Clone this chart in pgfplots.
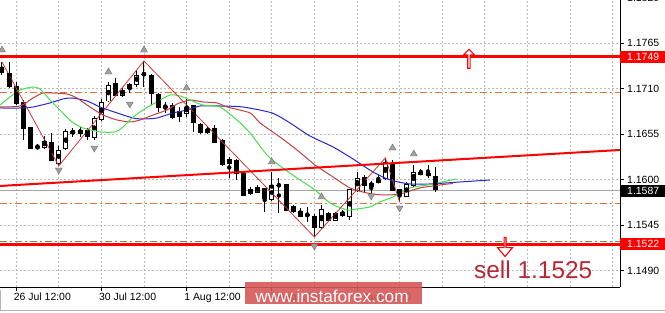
\documentclass[border=0pt]{standalone}
\usepackage{fontspec}
\setmainfont{Liberation Sans}
\usepackage{pgfplots}
\pgfplotsset{compat=1.18}
\usepackage{pgfplotstable}
\usetikzlibrary{shapes.arrows}

\definecolor{gridc}{RGB}{185,185,185}
\definecolor{lipsc}{RGB}{70,225,70}
\definecolor{teethc}{RGB}{195,65,65}
\definecolor{jawc}{RGB}{40,40,205}
\definecolor{zzc}{RGB}{205,55,55}
\definecolor{orangec}{RGB}{230,110,60}
\definecolor{greendd}{RGB}{90,150,90}
\definecolor{sellc}{RGB}{185,40,50}
\definecolor{wmc}{RGB}{214,88,88}
\definecolor{fracc}{RGB}{160,160,160}
\definecolor{bidc}{RGB}{165,165,165}

\pgfplotstableread{
k o h l c b
0 1.17364 1.17424 1.17267 1.17303 0
1 1.17291 1.17424 1.17110 1.17134 0
2 1.17134 1.17183 1.16904 1.16929 0
3 1.16929 1.16965 1.16481 1.16626 0
4 1.16638 1.16638 1.16372 1.16384 0
5 1.16397 1.16433 1.16372 1.16390 0
6 1.16397 1.16530 1.16372 1.16469 1
7 1.16457 1.16566 1.16230 1.16239 0
8 1.16203 1.16409 1.16167 1.16360 1
9 1.16372 1.16614 1.16360 1.16578 1
10 1.16566 1.16626 1.16517 1.16590 1
11 1.16566 1.16638 1.16517 1.16602 1
12 1.16602 1.16626 1.16481 1.16530 0
13 1.16517 1.16771 1.16481 1.16747 1
14 1.16735 1.16977 1.16711 1.16941 1
15 1.16953 1.17183 1.16941 1.17146 1
16 1.17170 1.17231 1.17013 1.17025 0
17 1.17025 1.17122 1.17001 1.17086 1
18 1.17098 1.17170 1.17049 1.17158 1
19 1.17158 1.17328 1.17122 1.17267 1
20 1.17279 1.17436 1.17122 1.17275 0
21 1.17267 1.17279 1.16904 1.17049 0
22 1.17037 1.17049 1.16820 1.16880 0
23 1.16892 1.16941 1.16808 1.16880 0
24 1.16904 1.16929 1.16735 1.16759 0
25 1.16759 1.16880 1.16699 1.16820 1
26 1.16808 1.16989 1.16759 1.16880 1
27 1.16892 1.16904 1.16578 1.16687 0
28 1.16663 1.16687 1.16554 1.16566 0
29 1.16578 1.16650 1.16554 1.16614 1
30 1.16626 1.16663 1.16445 1.16457 0
31 1.16469 1.16493 1.16170 1.16179 0
32 1.16203 1.16276 1.16022 1.16251 1
33 1.16239 1.16251 1.15997 1.16082 0
34 1.16082 1.16094 1.15804 1.15816 0
35 1.15840 1.15913 1.15816 1.15877 1
36 1.15852 1.15937 1.15840 1.15913 1
37 1.15889 1.15901 1.15611 1.15768 0
38 1.15756 1.16094 1.15744 1.15937 1
39 1.15937 1.16022 1.15598 1.15930 0
40 1.15949 1.15955 1.15623 1.15635 0
41 1.15683 1.15695 1.15598 1.15611 0
42 1.15623 1.15659 1.15550 1.15562 0
43 1.15574 1.15671 1.15490 1.15570 0
44 1.15562 1.15586 1.15308 1.15429 0
45 1.15417 1.15695 1.15405 1.15635 1
46 1.15598 1.15611 1.15502 1.15514 0
47 1.15514 1.15611 1.15502 1.15598 1
48 1.15611 1.15635 1.15550 1.15574 0
49 1.15550 1.15889 1.15514 1.15877 1
50 1.15877 1.16094 1.15852 1.16022 1
51 1.16022 1.16058 1.15852 1.15925 0
52 1.15925 1.15985 1.15816 1.15961 1
53 1.15973 1.16058 1.15961 1.15997 1
54 1.16010 1.16264 1.15997 1.16215 1
55 1.16203 1.16239 1.15864 1.15877 0
56 1.15877 1.15889 1.15732 1.15816 0
57 1.15804 1.15973 1.15792 1.15949 1
58 1.15937 1.16179 1.15913 1.16094 1
59 1.16094 1.16130 1.16058 1.16070 0
60 1.16082 1.16179 1.16022 1.16058 0
61 1.16034 1.16155 1.15852 1.15877 0
}\candles

\begin{document}
\begin{tikzpicture}
\useasboundingbox (0,0) rectangle (665bp,313bp);
\fill[white] (0,0) rectangle (665bp,313bp);
\begin{axis}[
  at={(0bp,26bp)}, anchor=south west,
  width=620bp, height=287bp, scale only axis,
  xmin=-0.28, xmax=87.04, ymin=1.14703, ymax=1.18174,
  axis x line*=bottom, axis y line*=right,
  axis line style={black, line width=0.8bp},
  clip=false,
  xtick={2,14,26,38,50},
  xticklabels={26 Jul 12:00,30 Jul 12:00,1 Aug 12:00,3 Aug 12:00,7 Aug 12:00},
  minor xtick={8,20,32,44,56,62,68,74,80,86},
  ytick={1.149,1.1545,1.16,1.1655,1.171,1.1765},
  yticklabels={1.1490,1.1545,1.1600,1.1655,1.1710,1.1765},
  xmajorgrids, xminorgrids, ymajorgrids,
  grid style={gridc, dash pattern=on 2bp off 2bp, line width=0.7bp},
  minor grid style={gridc, dash pattern=on 2bp off 2bp, line width=0.7bp},
  tick align=outside, major tick length=4bp, minor tick length=0pt,
  tick style={black, line width=0.8bp},
  ticklabel style={font=\fontsize{10.5}{12}\selectfont, text=black, inner sep=0pt},
  xticklabel style={anchor=north west, xshift=-2.5bp, yshift=-2bp},
  yticklabel style={anchor=west, xshift=3bp},
]
% bid line
\addplot[bidc, line width=0.8bp] coordinates {(-0.28,1.1587) (87.04,1.1587)};
% dash-dot levels
\addplot[orangec, line width=0.9bp, dash pattern=on 7bp off 3bp on 2bp off 3bp] coordinates {(-0.28,1.1705) (87.04,1.1705)};
\addplot[orangec, line width=0.9bp, dash pattern=on 7bp off 3bp on 2bp off 3bp] coordinates {(-0.28,1.1571) (87.04,1.1571)};
\addplot[greendd, line width=0.9bp, dash pattern=on 7bp off 3bp on 2bp off 3bp] coordinates {(-0.28,1.1525) (87.04,1.1525)};

% candles: wicks
\addplot[only marks, mark=none, error bars/.cd, y dir=both, y explicit, error mark=none,
  error bar style={black, line width=1bp}]
  table[x=k, y expr={(\thisrow{h}+\thisrow{l})/2},
        y error plus expr={(\thisrow{h}-\thisrow{l})/2},
        y error minus expr={(\thisrow{h}-\thisrow{l})/2}] {\candles};
% candles: bodies (black)
\addplot[only marks, mark=none, error bars/.cd, y dir=both, y explicit, error mark=none,
  error bar style={black, line width=5bp}]
  table[x=k, y expr={(\thisrow{o}+\thisrow{c})/2},
        y error plus expr={abs(\thisrow{o}-\thisrow{c})/2+0.00006},
        y error minus expr={abs(\thisrow{o}-\thisrow{c})/2+0.00006}] {\candles};
% candles: white inside of bullish bodies
\addplot[only marks, mark=none, error bars/.cd, y dir=both, y explicit, error mark=none,
  error bar style={white, line width=3bp}]
  table[x=k, y expr={(\thisrow{o}+\thisrow{c})/2},
        y error plus expr={\thisrow{b}*max(abs(\thisrow{o}-\thisrow{c})/2-0.00006,0)},
        y error minus expr={\thisrow{b}*max(abs(\thisrow{o}-\thisrow{c})/2-0.00006,0)}] {\candles};

% Alligator lines
\addplot[jawc, line width=1bp, smooth, tension=0.4] coordinates {
(-0.28,1.16868) (2.54,1.16868) (4.37,1.16880) (6.76,1.16929) (8.59,1.16977) (9.86,1.16989)
(11.97,1.16953) (13.80,1.16880) (16.20,1.16808) (18.45,1.16747) (19.86,1.16735) (21.83,1.16747)
(24.08,1.16808) (26.06,1.16844) (27.89,1.16892) (30.70,1.16892) (33.94,1.16880) (38.03,1.16808)
(40.56,1.16687) (43.38,1.16529) (46.62,1.16397) (49.44,1.16251) (52.25,1.16094) (54.65,1.15997)
(57.46,1.15949) (60.28,1.15949) (64.51,1.15973) (68.73,1.15997)};
\addplot[teethc, line width=1bp, smooth, tension=0.4] coordinates {
(-0.28,1.16880) (2.54,1.16892) (4.37,1.16989) (5.77,1.17049) (7.18,1.17049) (9.15,1.17037)
(10.56,1.16989) (12.39,1.16880) (14.23,1.16783) (16.20,1.16723) (18.03,1.16699) (19.44,1.16723)
(21.27,1.16783) (23.24,1.16844) (24.65,1.16916) (26.48,1.16965) (28.31,1.16941) (30.28,1.16929)
(31.69,1.16880) (34.93,1.16808) (36.34,1.16687) (39.15,1.16517) (41.55,1.16360) (44.08,1.16179)
(46.20,1.16058) (49.01,1.15901) (51.41,1.15840) (53.66,1.15816) (56.06,1.15828) (58.87,1.15901)
(61.69,1.15937) (63.50,1.15955)};
\addplot[lipsc, line width=1bp, smooth, tension=0.4] coordinates {
(-0.28,1.16904) (1.13,1.17001) (2.54,1.17086) (4.37,1.17122) (5.35,1.17098) (6.76,1.16965)
(8.17,1.16844) (9.86,1.16699) (11.41,1.16626) (13.80,1.16578) (15.92,1.16578) (16.90,1.16626)
(18.31,1.16747) (19.86,1.16844) (21.83,1.16941) (23.66,1.17025) (25.07,1.17013) (26.48,1.16965)
(28.31,1.16904) (30.70,1.16880) (33.10,1.16723) (34.93,1.16566) (37.32,1.16300) (39.15,1.16167)
(41.55,1.16022) (44.08,1.15877) (46.20,1.15719) (48.59,1.15635) (50.00,1.15647) (51.83,1.15671)
(53.24,1.15732) (55.07,1.15792) (57.46,1.15900) (60.70,1.15949) (63.94,1.16010)};

% zigzag
\addplot[zzc, line width=0.8bp] coordinates {(0,1.17424) (8,1.16167) (20,1.17436) (44,1.15308) (54,1.16264) (56,1.15732)};

% main levels and trend line
\addplot[red, line width=3bp] coordinates {(-0.28,1.1749) (87.04,1.1749)};
\addplot[red, line width=3bp] coordinates {(-0.28,1.1522) (87.04,1.1522)};
\addplot[red, line width=2bp] coordinates {(-0.28,1.15925) (87.04,1.16360)};

% fractals
\addplot[only marks, mark=triangle*, mark size=4bp, mark options={fill=fracc, draw=fracc!70!black, line width=0.4bp}]
  coordinates {(0,1.17569) (15,1.17303) (20,1.17569) (26,1.17110) (38,1.16215) (45,1.15792) (55,1.16384) (58,1.16312)};
\addplot[only marks, mark=triangle*, mark size=4bp, mark options={rotate=180, fill=fracc, draw=fracc!70!black, line width=0.4bp}]
  coordinates {(8,1.16118) (13,1.16384) (18,1.16916) (44,1.15199) (52,1.15804) (56,1.15659)};

% arrows
\node[single arrow, draw=red, fill=white, line width=1.1bp, shape border rotate=90,
  minimum height=19bp, minimum width=11bp, single arrow head extend=2bp, inner sep=0pt]
  at (axis cs:65.77,1.17455) {};
\node[single arrow, draw=red, fill=white, line width=1.1bp, shape border rotate=270,
  minimum height=19bp, minimum width=15bp, single arrow head extend=4bp,
  single arrow tip angle=80, inner sep=0pt]
  at (axis cs:70.85,1.15193) {};

% right-hand price boxes
\node[anchor=west, fill=red, text=white, minimum height=12bp, minimum width=46bp, inner sep=0pt,
  font=\fontsize{10.5}{12}\selectfont] at (axis cs:87.04,1.1749) {1.1749};
\node[anchor=west, fill=red, text=white, minimum height=12bp, minimum width=46bp, inner sep=0pt,
  font=\fontsize{10.5}{12}\selectfont] at (axis cs:87.04,1.1522) {1.1522};
\node[anchor=west, fill=black, text=white, minimum height=12bp, minimum width=46bp, inner sep=0pt,
  font=\fontsize{10.5}{12}\selectfont] at (axis cs:87.04,1.1587) {1.1587};
\end{axis}

% partially visible top tick label
\node[anchor=west, inner sep=0pt, font=\fontsize{10.5}{12}\selectfont] at (627bp,315.2bp) {1.1820};

% sell text
\node[anchor=base west, inner sep=0pt, text=sellc, font=\fontsize{24.5}{28}\selectfont] at (474bp,35bp) {sell 1.1525};

% bottom frame line
\draw[gray!60, line width=0.8bp] (0,3bp) -- (665bp,3bp);
\draw[gray!60, line width=0.8bp] (0.4bp,3bp) -- (0.4bp,23bp);

% watermark
\fill[wmc, opacity=0.9] (245bp,9bp) rectangle (422bp,30.5bp);
\node[anchor=base, inner sep=0pt, text=white, font=\fontsize{17.3}{20}\selectfont] at (332bp,10.8bp) {www.instaforex.com};
\end{tikzpicture}
\end{document}
